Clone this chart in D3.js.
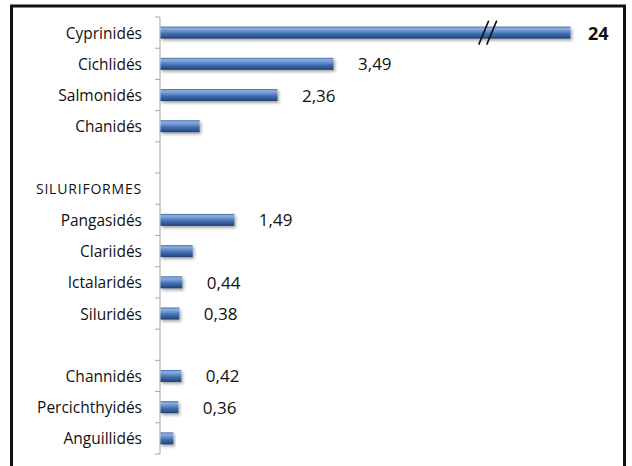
<!DOCTYPE html>
<html>
<head>
<meta charset="utf-8">
<script src="https://cdn.jsdelivr.net/npm/d3@7"></script>
<style>
  body { margin: 0; background: #fff; }
  text { font-family: "Open Sans", "Noto Sans", sans-serif; }
</style>
</head>
<body>
<div id="chart"></div>
<script>
// rows from top to bottom; empty strings are spacer rows
const categories = ['Cyprinidés', 'Cichlidés', 'Salmonidés', 'Chanidés', '',
  'SILURIFORMES', 'Pangasidés', 'Clariidés', 'Ictalaridés', 'Siluridés', '',
  'Channidés', 'Percichthyidés', 'Anguillidés'];
const values = [24, 3.49, 2.36, 0.79, null, null, 1.49, 0.65, 0.44, 0.38, null, 0.42, 0.36, 0.26];
const valueLabels = ['24', '3,49', '2,36', '', '', '', '1,49', '', '0,44', '0,38', '', '0,42', '0,36', ''];
// the axis is broken: anything above this is drawn at the end with a "//" mark
const axisCap = 8.27;
const breakAt = 6.55;

const width = 632, height = 466;
const axisX = 160, plotTop = 17, plotBottom = 454;

const svg = d3.select('#chart').append('svg')
  .attr('width', width).attr('height', height);

const defs = svg.append('defs');
const grad = defs.append('linearGradient').attr('id', 'barGrad')
  .attr('x1', 0).attr('y1', 0).attr('x2', 0).attr('y2', 1);
[[0, '#3d68a8'], [0.15, '#8db0e4'], [0.35, '#6d94d0'], [0.6, '#3f6db0'], [0.85, '#2c558f'], [1, '#1d3c6b']]
  .forEach(([o, c]) => grad.append('stop').attr('offset', o).attr('stop-color', c));
defs.append('filter').attr('id', 'shadow').attr('x', '-10%').attr('y', '-50%').attr('width', '130%').attr('height', '250%')
  .append('feDropShadow').attr('dx', 1.5).attr('dy', 2).attr('stdDeviation', 1.5)
  .attr('flood-color', '#000').attr('flood-opacity', 0.35);

// frame
svg.append('rect')
  .attr('x', 11.5).attr('y', 6).attr('width', 613).attr('height', 480)
  .attr('fill', 'none').attr('stroke', '#111').attr('stroke-width', 3);

const y = d3.scaleBand().domain(d3.range(categories.length)).range([plotTop, plotBottom]).padding(0);
const x = d3.scaleLinear().domain([0, axisCap]).range([axisX, 570]).clamp(true);

const barH = 12;

// axis line + boundary ticks
const g = svg.append('g');
g.append('line')
  .attr('x1', axisX).attr('x2', axisX).attr('y1', plotTop).attr('y2', plotBottom)
  .attr('stroke', '#a6a6a6').attr('stroke-width', 1);
g.selectAll('.tk').data(d3.range(categories.length + 1)).enter().append('line')
  .attr('x1', axisX - 5).attr('x2', axisX)
  .attr('y1', i => plotTop + i * y.step()).attr('y2', i => plotTop + i * y.step())
  .attr('stroke', '#a6a6a6').attr('stroke-width', 1);

// category labels (the group header is small caps with wider spacing)
g.selectAll('.cat').data(categories).enter().append('text')
  .attr('x', 142)
  .attr('y', (d, i) => y(i) + y.bandwidth() / 2)
  .attr('text-anchor', 'end')
  .attr('dominant-baseline', 'central')
  .attr('font-size', d => d === 'SILURIFORMES' ? 14 : 15.5)
  .attr('letter-spacing', d => d === 'SILURIFORMES' ? 0.8 : 0)
  .attr('fill', '#111')
  .text(d => d);

const rows = values.map((v, i) => ({ v, i, label: valueLabels[i] })).filter(d => d.v != null);

// bars
svg.selectAll('.bar').data(rows).enter().append('rect')
  .attr('x', axisX + 0.5)
  .attr('y', d => y(d.i) + y.bandwidth() / 2 - barH / 2)
  .attr('width', d => x(d.v) - axisX)
  .attr('height', barH)
  .attr('fill', 'url(#barGrad)')
  .attr('filter', 'url(#shadow)');

// value labels
svg.selectAll('.val').data(rows.filter(d => d.label)).enter().append('text')
  .attr('x', d => x(d.v) + (d.v > axisCap ? 18 : 25))
  .attr('y', d => y(d.i) + y.bandwidth() / 2)
  .attr('dominant-baseline', 'central')
  .attr('font-size', d => d.v > axisCap ? 18 : 17)
  .attr('font-weight', d => d.v > axisCap ? 'bold' : 'normal')
  .attr('fill', '#111')
  .text(d => d.label);

// break marks on capped bars
rows.filter(d => d.v > axisCap).forEach(d => {
  const cy = y(d.i) + y.bandwidth() / 2;
  const bx = x(breakAt);
  [0, 8].forEach(off => {
    svg.append('line')
      .attr('x1', bx + off - 6).attr('y1', cy + 12)
      .attr('x2', bx + off + 4).attr('y2', cy - 12)
      .attr('stroke', '#111').attr('stroke-width', 1.6);
  });
});
</script>
</body>
</html>
